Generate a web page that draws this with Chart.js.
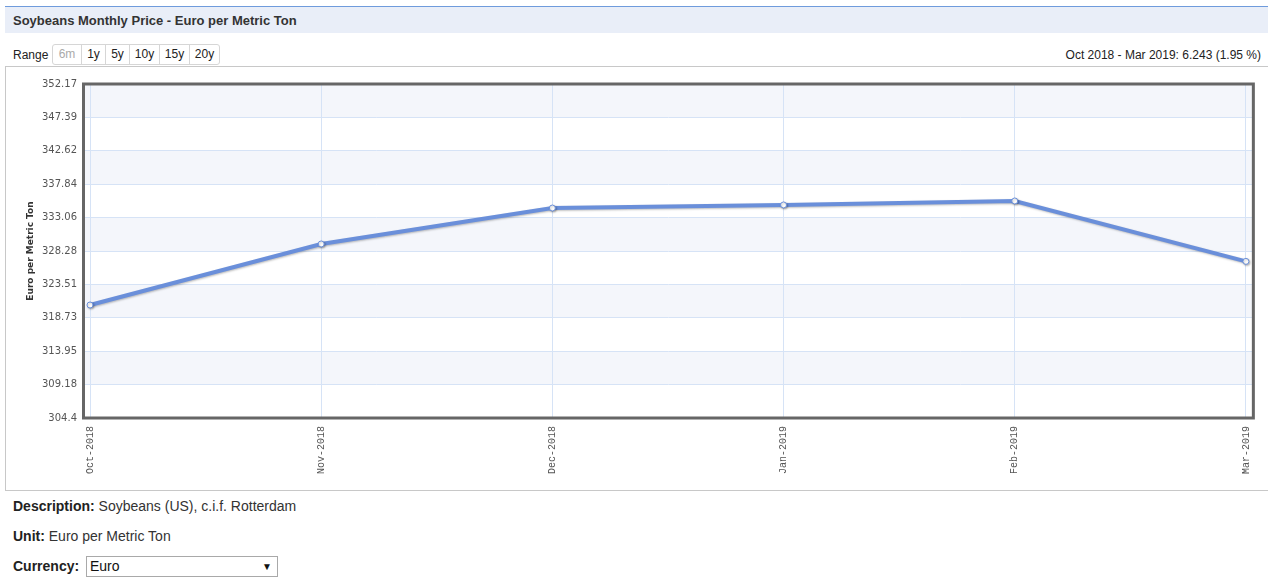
<!DOCTYPE html>
<html>
<head>
<meta charset="utf-8">
<script src="https://cdn.jsdelivr.net/npm/chart.js@4.4.1/dist/chart.umd.min.js"></script>
<style>
  html, body { margin: 0; padding: 0; background: #fff; }
  body { width: 1268px; height: 580px; position: relative; overflow: hidden;
         font-family: "Liberation Sans", Arial, sans-serif; color: #333; }
  .titlebar { position: absolute; left: 5px; top: 6px; width: 1263px; height: 27px;
              background: #e9eef8; border-top: 1px solid #6f9bdc; box-sizing: border-box; }
  .titlebar span { position: absolute; left: 8px; top: 6px; font-size: 13px; font-weight: bold; color: #333; }
  .range { position: absolute; left: 13px; top: 48px; font-size: 12px; color: #222; }
  .btns { position: absolute; left: 52px; top: 44px; height: 21px; display: flex;
          border: 1px solid #d6d6d6; border-radius: 3px; box-sizing: border-box; }
  .btns div { height: 19px; line-height: 19px; text-align: center; font-size: 12px; color: #222;
              border-left: 1px solid #d6d6d6; box-sizing: border-box; }
  .btns div:first-child { border-left: none; color: #aaa; }
  .change { position: absolute; right: 7px; top: 48px; font-size: 12px; color: #222; }
  .box { position: absolute; left: 5px; top: 66px; width: 1263px; height: 425px;
         border: 1px solid #c8c8c8; border-right: none; box-sizing: border-box; }
  #wrap { position: absolute; left: 6px; top: 67px; width: 1260px; height: 422px; }
  .info { position: absolute; left: 13px; font-size: 14px; color: #333; }
  .info b { color: #222; }
  .sel { position: absolute; left: 86px; top: 556px; width: 192px; height: 21px; border: 1px solid #a9a9a9;
         box-sizing: border-box; font-size: 14px; line-height: 19px; padding-left: 3px; color: #111; }
  .sel i { position: absolute; right: 5px; top: 0; font-style: normal; font-size: 10px; }
</style>
</head>
<body>
<div class="titlebar"><span>Soybeans Monthly Price - Euro per Metric Ton</span></div>
<div class="range">Range</div>
<div class="btns">
  <div style="width:28px">6m</div><div style="width:24px">1y</div><div style="width:24px">5y</div>
  <div style="width:30px">10y</div><div style="width:30px">15y</div><div style="width:30px">20y</div>
</div>
<div class="change">Oct 2018 - Mar 2019: 6.243 (1.95 %)</div>
<div class="box"></div>
<div id="wrap"><canvas id="c" width="1260" height="422"></canvas></div>
<div class="info" style="top:498px"><b>Description:</b> Soybeans (US), c.i.f. Rotterdam</div>
<div class="info" style="top:528px"><b>Unit:</b> Euro per Metric Ton</div>
<div class="info" style="top:558px"><b>Currency:</b></div>
<div class="sel">Euro<i>&#9660;</i></div>

<script>
const categories = ["Oct-2018", "Nov-2018", "Dec-2018", "Jan-2019", "Feb-2019", "Mar-2019"];
const prices = [320.56, 329.29, 334.43, 334.87, 335.44, 326.80];
const yTickLabels = ["304.4", "309.18", "313.95", "318.73", "323.51", "328.28", "333.06", "337.84", "342.62", "347.39", "352.17"];
const yAxisTitle = "Euro per Metric Ton";

const yTickValues = yTickLabels.map(Number);

const bandsPlugin = {
  id: 'bands',
  beforeDraw(chart) {
    const {ctx, chartArea: a, scales: {y}} = chart;
    ctx.save();
    ctx.fillStyle = '#ffffff';
    ctx.fillRect(a.left, a.top, a.right - a.left, a.bottom - a.top);
    ctx.fillStyle = '#f4f6fb';
    for (let i = 0; i < yTickValues.length - 1; i++) {
      if ((yTickValues.length - 2 - i) % 2 === 0) {
        const y1 = y.getPixelForValue(yTickValues[i + 1]);
        const y0 = y.getPixelForValue(yTickValues[i]);
        ctx.fillRect(a.left, y1, a.right - a.left, y0 - y1);
      }
    }
    ctx.restore();
  },
  beforeDatasetDraw(chart) {
    const ctx = chart.ctx;
    ctx.save();
    ctx.shadowColor = 'rgba(0,0,0,0.25)';
    ctx.shadowBlur = 2;
    ctx.shadowOffsetX = 1;
    ctx.shadowOffsetY = 1;
  },
  afterDatasetDraw(chart) {
    chart.ctx.restore();
  },
  afterDraw(chart) {
    const {ctx, chartArea: a} = chart;
    ctx.save();
    ctx.strokeStyle = '#666666';
    ctx.lineWidth = 3;
    ctx.strokeRect(a.left - 0.5, a.top, a.right - a.left + 1, a.bottom - a.top);
    ctx.restore();
  }
};

new Chart(document.getElementById('c'), {
  type: 'line',
  data: {
    datasets: [{
      data: prices.map((v, i) => ({x: i, y: v})),
      borderColor: '#6a8fda',
      borderWidth: 4,
      pointRadius: 3,
      pointBackgroundColor: '#ffffff',
      pointBorderColor: '#6a8fda',
      pointBorderWidth: 1,
      tension: 0,
      fill: false
    }]
  },
  options: {
    responsive: false,
    animation: false,
    events: [],
    layout: { padding: { top: 17, right: 13, left: 0, bottom: 0 } },
    plugins: { legend: { display: false }, tooltip: { enabled: false } },
    scales: {
      x: {
        type: 'linear',
        min: -0.026,
        max: 5.03,
        afterBuildTicks(scale) { scale.ticks = categories.map((c, i) => ({value: i})); },
        afterFit(scale) { scale.height = 71; },
        grid: { color: '#d6e3f6', lineWidth: 1, drawTicks: false },
        border: { display: false },
        ticks: {
          autoSkip: false, minRotation: 90, maxRotation: 90, padding: 8,
          color: '#555', font: { family: '"Liberation Mono", "Courier New", monospace', size: 10 },
          callback: (v) => categories[v]
        }
      },
      y: {
        min: yTickValues[0],
        max: yTickValues[yTickValues.length - 1],
        afterBuildTicks(scale) { scale.ticks = yTickValues.map(v => ({value: v})); },
        afterFit(scale) { scale.width = 78; },
        grid: { color: '#d6e3f6', lineWidth: 1, drawTicks: false },
        border: { display: false },
        ticks: {
          padding: 7, color: '#555',
          font: { family: '"DejaVu Sans", Verdana, sans-serif', size: 10 },
          callback: (v) => yTickLabels[yTickValues.indexOf(v)]
        },
        title: {
          display: true, text: yAxisTitle, color: '#333',
          font: { family: '"DejaVu Sans", Verdana, sans-serif', size: 9, weight: 'bold' },
          padding: { top: 19, bottom: 0 }
        }
      }
    }
  },
  plugins: [bandsPlugin]
});
</script>
</body>
</html>
